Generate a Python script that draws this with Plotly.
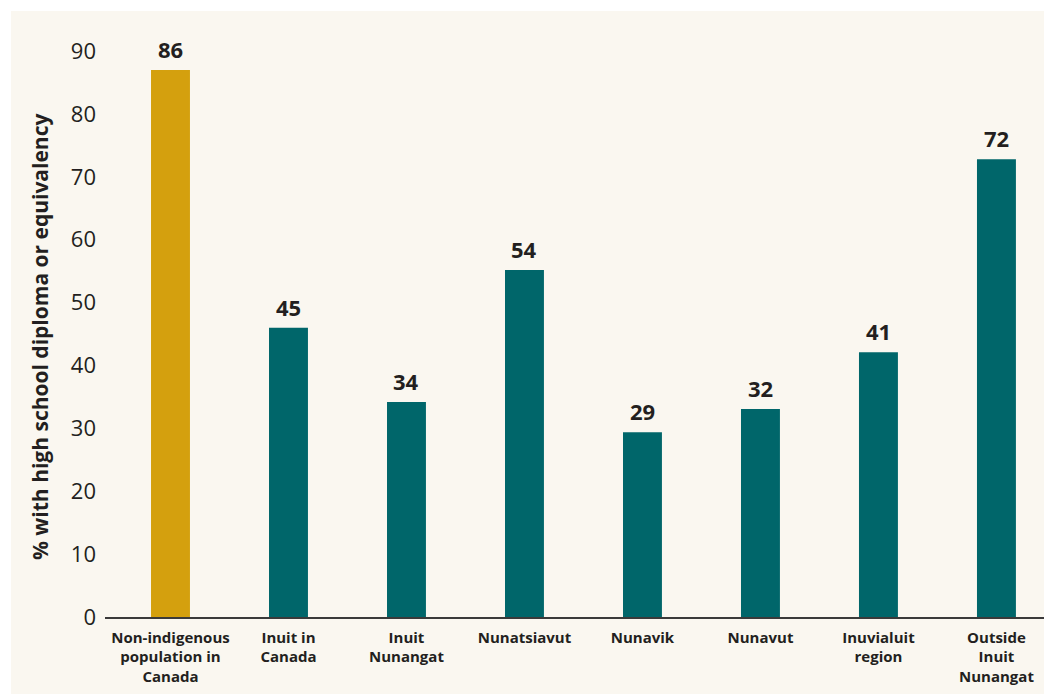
import plotly.graph_objects as go

categories = [
    "Non-indigenous<br>population in<br>Canada",
    "Inuit in<br>Canada",
    "Inuit<br>Nunangat",
    "Nunatsiavut",
    "Nunavik",
    "Nunavut",
    "Inuvialuit<br>region",
    "Outside<br>Inuit<br>Nunangat",
]
bar_values = [87.0, 46.0, 34.2, 55.2, 29.4, 33.1, 42.1, 72.8]
label_values = ["86", "45", "34", "54", "29", "32", "41", "72"]
bar_colors = ["#d4a00e"] + ["#00666a"] * 7
y_ticks = [0, 10, 20, 30, 40, 50, 60, 70, 80, 90]
y_title = "% with high school diploma or equivalency"

FONT = "Open Sans"
TEXT = "#231f20"

xs = list(range(len(categories)))

fig = go.Figure(
    go.Bar(
        x=xs,
        y=bar_values,
        width=0.33,
        marker=dict(color=bar_colors, line=dict(width=0)),
        hoverinfo="skip",
    )
)

annotations = [
    dict(
        x=x, y=v, xref="x", yref="y", text=t, showarrow=False,
        yanchor="bottom", xanchor="center", yshift=4,
        font=dict(family=FONT, size=22, color=TEXT, weight="bold"),
    )
    for x, v, t in zip(xs, bar_values, label_values)
]
annotations.append(
    dict(
        x=(40 - 105) / 939, y=(617 - 337) / 591, xref="paper", yref="paper",
        text=y_title, showarrow=False, textangle=-90,
        xanchor="center", yanchor="middle",
        font=dict(family=FONT, size=21, color=TEXT, weight="bold"),
    )
)

fig.update_layout(
    width=1044,
    height=694,
    margin=dict(l=105, r=0, t=26, b=77),
    paper_bgcolor="white",
    plot_bgcolor="rgba(0,0,0,0)",
    showlegend=False,
    font=dict(family=FONT, color=TEXT),
    annotations=annotations,
    shapes=[
        dict(
            type="rect", xref="paper", yref="paper",
            x0=(11 - 105) / 939, x1=1.0,
            y0=(617 - 694) / 591, y1=(617 - 11) / 591,
            fillcolor="#faf7f0", line=dict(width=0), layer="below",
        )
    ],
)

fig.update_xaxes(
    range=[-0.555, 7.403],
    tickmode="array",
    tickvals=xs,
    ticktext=categories,
    tickfont=dict(family=FONT, size=15, color=TEXT, weight="bold"),
    showgrid=False,
    zeroline=False,
    showline=True,
    linecolor="#3a3a3a",
    linewidth=1.5,
    ticks="",
    ticklabelstandoff=6,
)

fig.update_yaxes(
    range=[0, 94],
    tickmode="array",
    tickvals=y_ticks,
    tickfont=dict(family=FONT, size=22, color=TEXT),
    showgrid=False,
    zeroline=False,
    showline=False,
    ticks="",
    ticklabelstandoff=8,
)

fig.write_html(
    "out.html",
    config={"displayModeBar": False},
    post_script="document.body.style.margin='0';document.body.style.overflow='hidden';",
)
